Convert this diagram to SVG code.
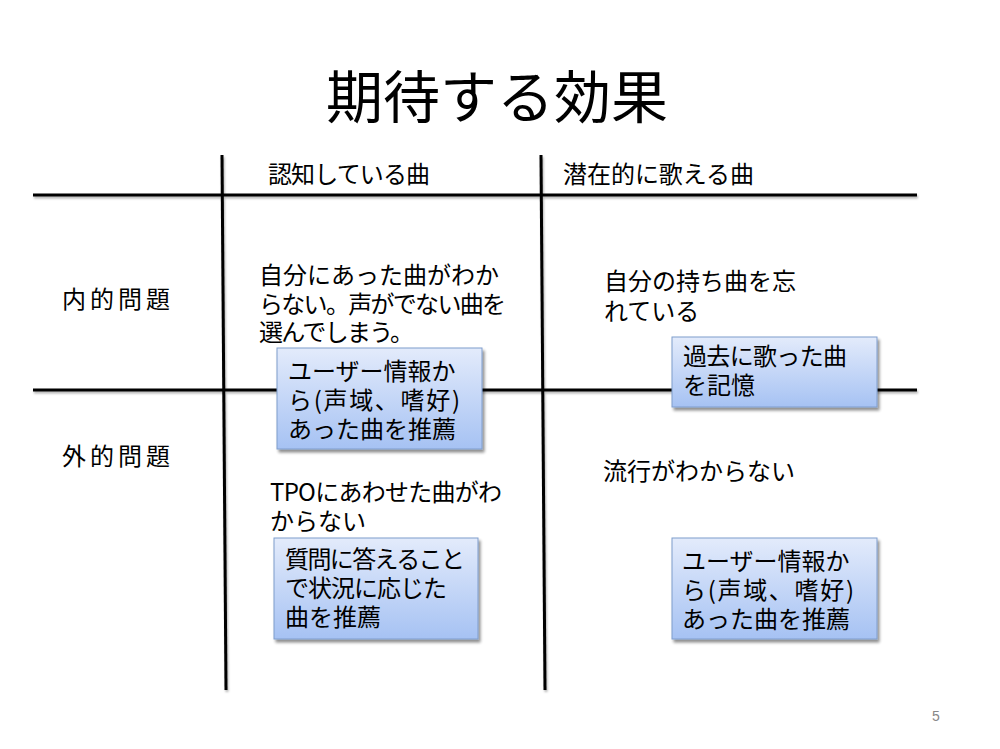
<svg xmlns="http://www.w3.org/2000/svg" width="1000" height="749" viewBox="0 0 1000 749">
<defs>
<linearGradient id="boxGrad" x1="0" y1="0" x2="0" y2="1">
<stop offset="0" stop-color="#e3ebfb"/>
<stop offset="1" stop-color="#a6c2f3"/>
</linearGradient>
<filter id="shadow" x="-10%" y="-10%" width="130%" height="140%">
<feGaussianBlur in="SourceAlpha" stdDeviation="1.5"/>
<feOffset dx="1.5" dy="2.5" result="b"/>
<feComponentTransfer><feFuncA type="linear" slope="0.45"/></feComponentTransfer>
<feMerge><feMergeNode/><feMergeNode in="SourceGraphic"/></feMerge>
</filter>
<filter id="lineShadow" x="-5%" y="-50%" width="110%" height="200%">
<feGaussianBlur in="SourceAlpha" stdDeviation="1"/>
<feOffset dx="1" dy="2" result="b"/>
<feComponentTransfer><feFuncA type="linear" slope="0.3"/></feComponentTransfer>
<feMerge><feMergeNode/><feMergeNode in="SourceGraphic"/></feMerge>
</filter>
</defs>
<style>
text{font-family:"Noto Sans CJK JP","Noto Sans",sans-serif;fill:#000;}
.t{font-size:24px;}
.h{font-size:24px;}
.lab{font-size:24px;letter-spacing:4px;}
.title{font-size:57px;}
.box{fill:url(#boxGrad);stroke:#7f9dcc;stroke-width:1;filter:url(#shadow);}
.ln{stroke:#000;stroke-width:3;fill:none;}
.pg{font-size:14px;fill:#888;font-family:"Liberation Sans",sans-serif;}
</style>
<rect width="1000" height="749" fill="#fff"/>
<text class="title" x="497" y="118" text-anchor="middle">期待する効果</text>
<g id="connectors" filter="url(#lineShadow)">
<line class="ln" x1="33" y1="195" x2="917" y2="195"/>
<line class="ln" x1="33" y1="390" x2="917" y2="390"/>
<line class="ln" x1="222" y1="155" x2="226" y2="690"/>
<line class="ln" x1="541" y1="155" x2="545" y2="690"/>
</g>
<g id="header-known"><text class="h" x="268" y="183" textLength="162" lengthAdjust="spacing">認知している曲</text></g>
<g id="header-latent"><text class="h" x="563" y="183" textLength="191" lengthAdjust="spacing">潜在的に歌える曲</text></g>
<g id="label-internal"><text class="lab" x="62" y="308">内的問題</text></g>
<g id="label-external"><text class="lab" x="62" y="465">外的問題</text></g>
<g id="problem-1">
<text class="t" x="259" y="284" textLength="240" lengthAdjust="spacing">自分にあった曲がわか</text>
<text class="t" x="259" y="312.5" textLength="247" lengthAdjust="spacing">らない。声がでない曲を</text>
<text class="t" x="259" y="341" textLength="155" lengthAdjust="spacing">選んでしまう。</text>
</g>
<g id="problem-2">
<text class="t" x="604" y="290">自分の持ち曲を忘</text>
<text class="t" x="604" y="320">れている</text>
</g>
<g id="problem-3">
<text class="t" x="270" y="501" textLength="232" lengthAdjust="spacing">TPOにあわせた曲がわ</text>
<text class="t" x="270" y="530">からない</text>
</g>
<g id="problem-4">
<text class="t" x="603" y="480">流行がわからない</text>
</g>
<g id="effect-1">
<rect class="box" x="277" y="348" width="205" height="101"/>
<text class="t" x="288" y="380">ユーザー情報か</text>
<text class="t" x="288" y="409" textLength="172" lengthAdjust="spacing">ら(声域、嗜好)</text>
<text class="t" x="288" y="438">あった曲を推薦</text>
</g>
<g id="effect-2">
<rect class="box" x="672" y="337" width="205" height="70"/>
<text class="t" x="683" y="365" textLength="164" lengthAdjust="spacing">過去に歌った曲</text>
<text class="t" x="683" y="394">を記憶</text>
</g>
<g id="effect-3">
<rect class="box" x="274" y="538" width="204" height="101"/>
<text class="t" x="285" y="568" textLength="180" lengthAdjust="spacing">質問に答えること</text>
<text class="t" x="285" y="597" textLength="162" lengthAdjust="spacing">で状況に応じた</text>
<text class="t" x="285" y="626">曲を推薦</text>
</g>
<g id="effect-4">
<rect class="box" x="672" y="538" width="205" height="101"/>
<text class="t" x="682" y="570">ユーザー情報か</text>
<text class="t" x="682" y="599" textLength="172" lengthAdjust="spacing">ら(声域、嗜好)</text>
<text class="t" x="682" y="628">あった曲を推薦</text>
</g>
<text class="pg" x="932" y="721">5</text>
</svg>
